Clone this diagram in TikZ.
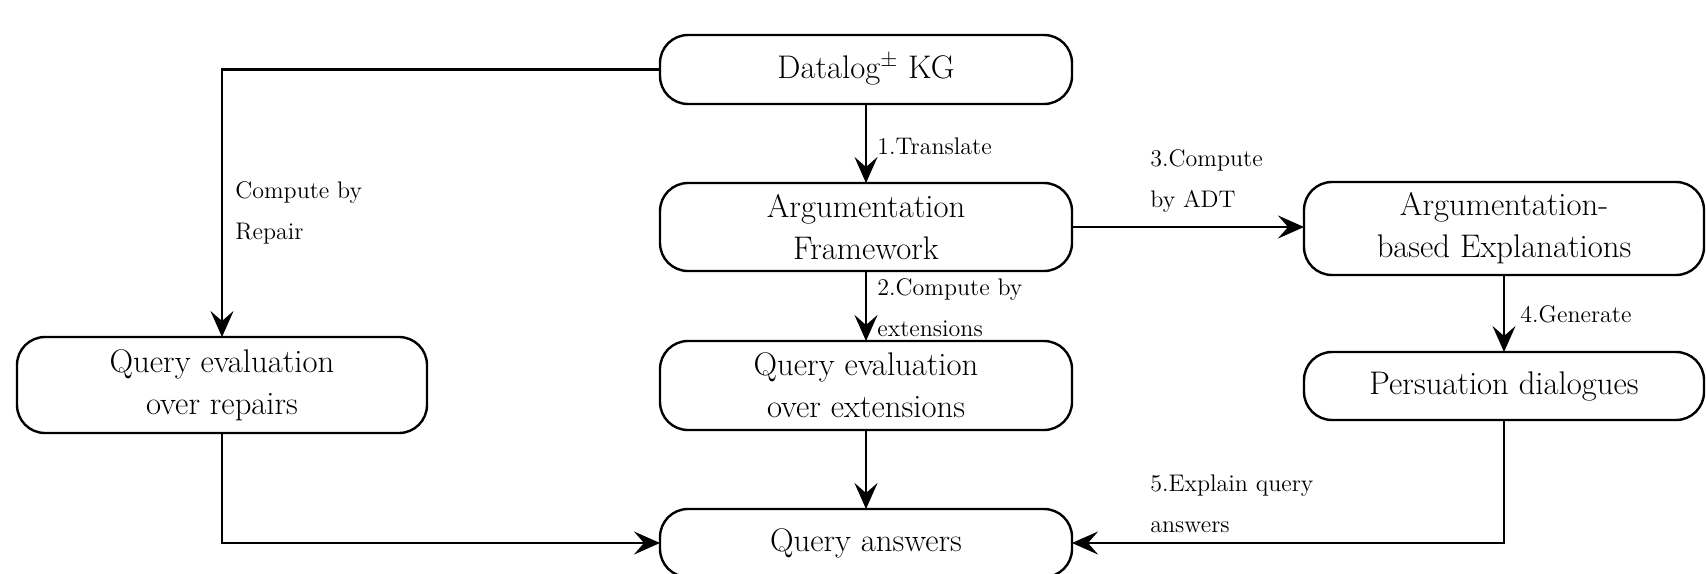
\documentclass[tikz,border=0pt]{standalone}
\usepackage{fontspec}
\usetikzlibrary{arrows.meta}
\tikzset{
  box/.style={draw, line width=1.2pt, rounded corners=14pt, inner sep=0pt, outer sep=0pt,
    align=center, font=\fontsize{16.35}{21}\selectfont},
  lbl/.style={inner sep=0pt, align=left, anchor=west, font=\fontsize{12}{20.5}\selectfont},
  conn/.style={line width=1.2pt, -{Stealth[length=13pt,width=11.5pt,inset=5pt]}},
}
\begin{document}
\begin{tikzpicture}[x=0.5pt,y=-0.5pt]
\clip (0,0) rectangle (1706,573);
\fill[white] (0,0) rectangle (1706,573);
% boxes
\node[box, minimum width=206pt, minimum height=34.5pt] (dkg) at (866,69.5) {Datalog$^{\pm}$ KG};
\node[box, minimum width=206pt, minimum height=44pt] (af) at (866,227) {Argumentation\\Framework};
\node[box, minimum width=206pt, minimum height=44.5pt] (qee) at (866,385.5) {Query evaluation\\over extensions};
\node[box, minimum width=206pt, minimum height=34pt] (qa) at (866,543) {Query answers};
\node[box, minimum width=205pt, minimum height=48pt] (qer) at (222,385) {Query evaluation\\over repairs};
\node[box, minimum width=200pt, minimum height=46.5pt] (aex) at (1504,228.5) {Argumentation-\\based Explanations};
\node[box, minimum width=200pt, minimum height=34pt] (pd) at (1504,386) {Persuation dialogues};
% connectors
\draw[conn] (dkg.south) -- (af.north);
\draw[conn] (af.south) -- (qee.north);
\draw[conn] (qee.south) -- (qa.north);
\draw[conn] (af.east) -- (aex.west |- af.east);
\draw[conn] (aex.south) -- (pd.north);
\draw[conn] (pd.south) |- (qa.east);
\draw[conn] (dkg.west) -| (qer.north);
\draw[conn] (qer.south) |- (qa.west);
% labels
\node[lbl] (l1) at (877,146) {1.Translate};
\node[lbl] (l2) at (877,308) {2.Compute by\\extensions};
\node[lbl] (l3) at (1150,181) {3.Compute\\by ADT};
\node[lbl] (l4) at (1520,314) {4.Generate};
\node[lbl] (l5) at (1150,504) {5.Explain query\\answers};
\node[lbl] (l6) at (235,212.5) {Compute by\\Repair};
\end{tikzpicture}
\end{document}
